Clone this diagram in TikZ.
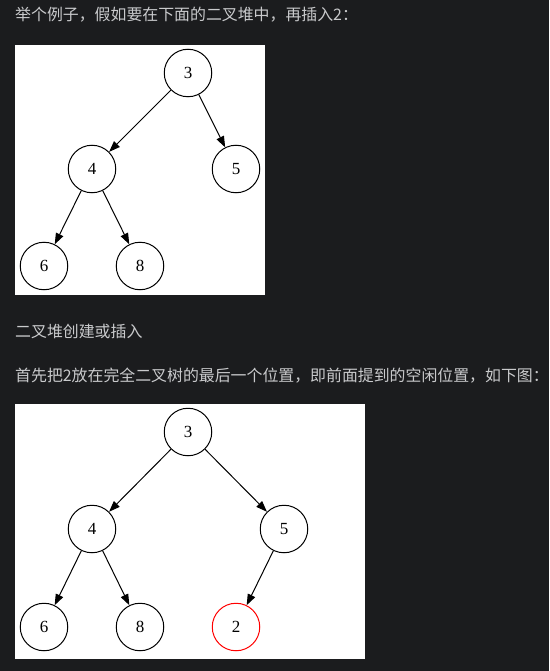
\documentclass[tikz,border=0pt]{standalone}
\usepackage{fontspec}
\setmainfont{Liberation Serif}
\newfontfamily\cjk{Noto Sans CJK SC}
\usetikzlibrary{arrows.meta}
\definecolor{pagebg}{HTML}{1B1C1E}
\definecolor{pagetext}{HTML}{C9CACC}
\tikzset{
  heapnode/.style={draw, circle, line width=1pt, minimum size=47.5pt, inner sep=0pt, font=\fontsize{17}{17}\selectfont},
  heapedge/.style={-{Triangle[length=11pt,width=8pt]}, line width=1pt},
  caption/.style={anchor=west, text=pagetext, font=\cjk\fontsize{15.9}{16}\selectfont, inner sep=0pt}
}
\begin{document}
\begin{tikzpicture}[x=1pt,y=-1pt]
\fill[pagebg] (0,0) rectangle (549,671);
\useasboundingbox (0,0) rectangle (549,671);

%captions
\node[caption] (t1) at (15,15) {举个例子，假如要在下面的二叉堆中，再插入2：};
\node[caption] (t2) at (15,331) {二叉堆创建或插入};
\node[caption] (t3) at (15,376) {首先把2放在完全二叉树的最后一个位置，即前面提到的空闲位置，如下图：};

%first heap
\fill[white] (15,45) rectangle (265,295);
\node[heapnode] (a3) at (188,73) {3};
\node[heapnode] (a4) at (92,169) {4};
\node[heapnode] (a5) at (236,169) {5};
\node[heapnode] (a6) at (44,266) {6};
\node[heapnode] (a8) at (140,266) {8};
\draw[heapedge] (a3) -- (a4);
\draw[heapedge] (a3) -- (a5);
\draw[heapedge] (a4) -- (a6);
\draw[heapedge] (a4) -- (a8);

%second heap, 2 put in the last place
\fill[white] (15,404) rectangle (365,659);
\node[heapnode] (b3) at (188,432) {3};
\node[heapnode] (b4) at (92,529) {4};
\node[heapnode] (b5) at (284,529) {5};
\node[heapnode] (b6) at (44,627) {6};
\node[heapnode] (b8) at (140,627) {8};
\node[heapnode, red] (b2) at (236,627) {\textcolor{black}{2}};
\draw[heapedge] (b3) -- (b4);
\draw[heapedge] (b3) -- (b5);
\draw[heapedge] (b4) -- (b6);
\draw[heapedge] (b4) -- (b8);
\draw[heapedge] (b5) -- (b2);
\end{tikzpicture}
\end{document}
